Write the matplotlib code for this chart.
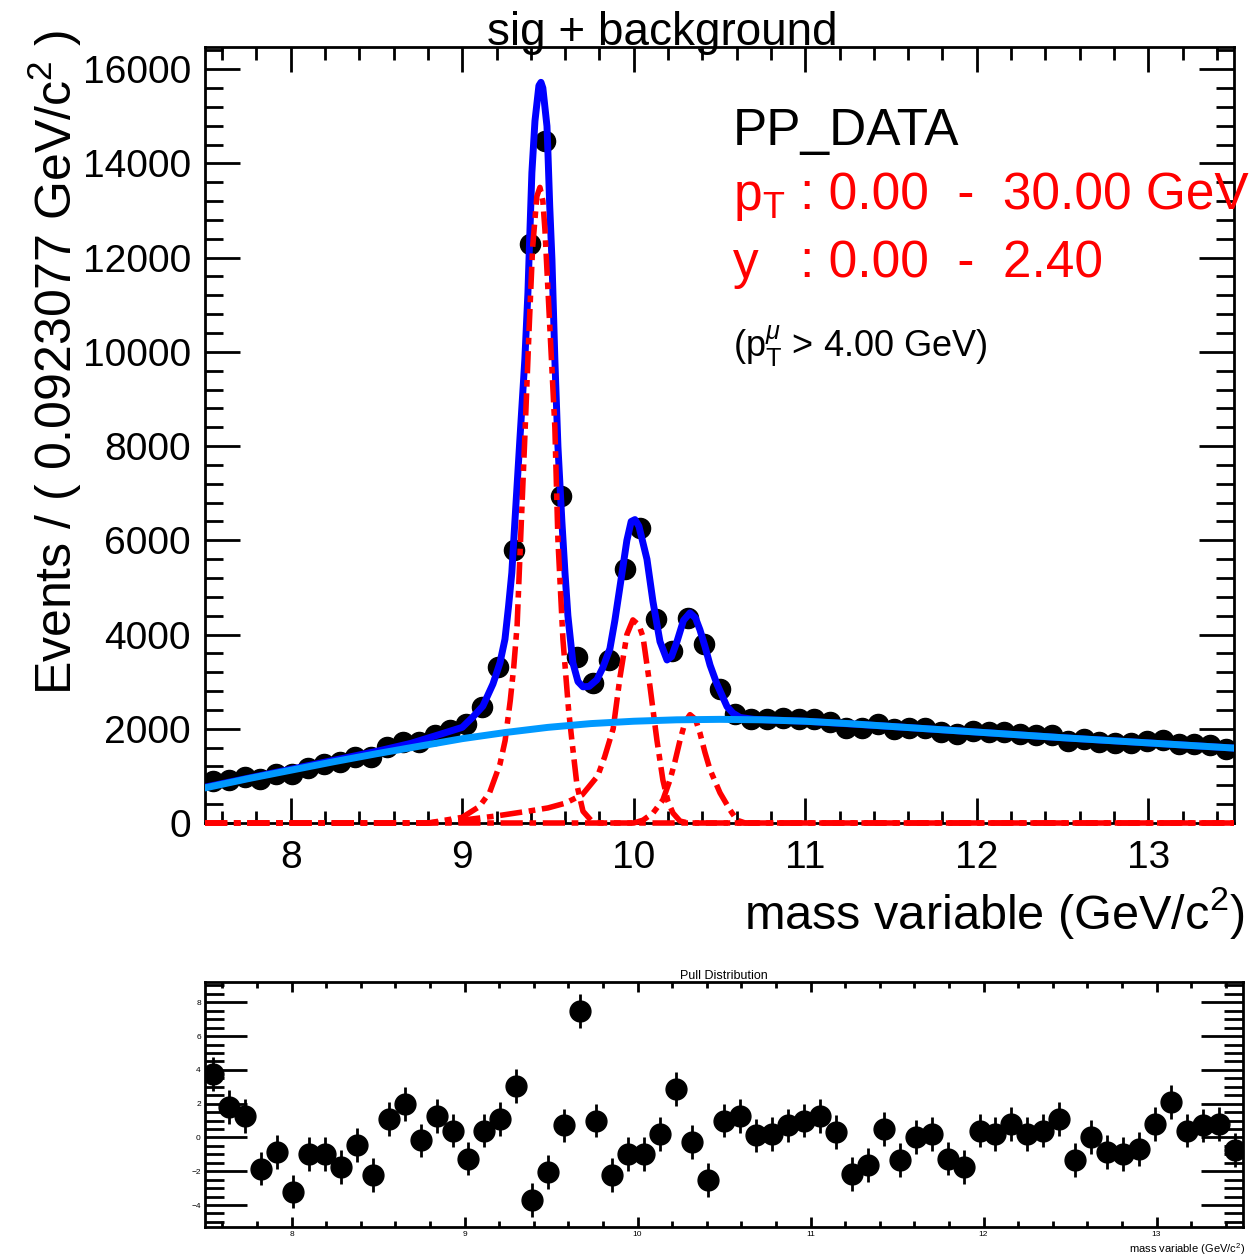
import numpy as np
import matplotlib
matplotlib.use('Agg')
import matplotlib.pyplot as plt
from matplotlib.ticker import MultipleLocator

plt.rcParams.update({
    'font.family'      : 'Liberation Sans',
    'mathtext.fontset' : 'custom',
    'mathtext.rm'      : 'Liberation Sans',
    'mathtext.it'      : 'Liberation Sans:italic',
    'axes.linewidth'   : 2.0,
})

###################################
# data
###################################

bin_width = 0.0923077
x_lo, x_hi = 7.5, 13.5

counts = [895, 912, 969, 942, 1042, 1032, 1177, 1246, 1286, 1402,
          1404, 1603, 1720, 1713, 1865, 1980, 2100, 2470, 3310, 5800,
          12280, 14470, 6930, 3530, 2970, 3460, 5400, 6260, 4330, 3660,
          4360, 3800, 2850, 2310, 2206, 2205, 2218, 2212, 2210, 2144,
          2012, 2015, 2091, 1985, 2025, 2012, 1924, 1881, 1954, 1923,
          1926, 1879, 1865, 1872, 1746, 1784, 1727, 1703, 1695, 1736,
          1767, 1679, 1670, 1653, 1570]

pulls = [3.75, 1.78, 1.29, -1.84, -0.86, -3.2, -0.96, -0.96, -1.75, -0.47,
         -2.24, 1.1, 1.98, -0.18, 1.29, 0.41, -1.25, 0.41, 1.1, 3.06,
         -3.7, -2.04, 0.71, 7.47, 1.0, -2.24, -0.96, -0.96, 0.22, 2.86,
         -0.27, -2.53, 1.0, 1.29, 0.12, 0.22, 0.71, 1.0, 1.29, 0.31,
         -2.14, -1.65, 0.51, -1.35, 0.02, 0.22, -1.25, -1.75, 0.41, 0.22,
         0.8, 0.22, 0.41, 1.1, -1.35, 0.02, -0.86, -0.96, -0.67, 0.8,
         2.08, 0.41, 0.71, 0.8, -0.76]

# total fit (blue)
tot_x = [7.5, 7.75, 8.0, 8.25, 8.5, 8.7, 8.869, 9.0, 9.062, 9.12, 9.179, 9.22,
         9.249, 9.27, 9.289, 9.307, 9.336, 9.365, 9.383, 9.394, 9.406, 9.424,
         9.447, 9.459, 9.47, 9.494, 9.499, 9.51, 9.523, 9.54, 9.558, 9.581,
         9.599, 9.616, 9.645, 9.675, 9.704, 9.74, 9.785, 9.82, 9.861, 9.89,
         9.919, 9.96, 9.985, 10.007, 10.03, 10.077, 10.112, 10.153, 10.194,
         10.22, 10.252, 10.29, 10.328, 10.36, 10.386, 10.415, 10.445, 10.485,
         10.544, 10.579, 10.62, 10.7, 11.0, 11.5, 12.0, 12.5, 13.0, 13.5]
tot_y = [760, 950, 1140, 1330, 1520, 1690, 1880, 2030, 2250, 2480, 2950, 3400,
         3900, 4600, 5310, 6400, 8140, 9840, 11260, 12500, 13800, 14900,
         15650, 15720, 15600, 14790, 14300, 13100, 11960, 9840, 7990, 6400,
         5310, 4400, 3400, 3000, 2890, 2900, 3040, 3300, 3700, 4300,
         5000, 6000, 6400, 6440, 6300, 5600, 4700, 3850, 3460,
         3530, 3850, 4300, 4460, 4350, 4100, 3750, 3350, 2950,
         2470, 2330, 2240, 2200, 2160, 2050, 1930, 1810, 1700, 1590]

# background (light blue)
bkg_x = [7.5, 7.75, 8.0, 8.25, 8.5, 8.75, 9.0, 9.25, 9.5, 9.75, 10.0, 10.25,
         10.5, 10.75, 11.0, 11.25, 11.5, 11.75, 12.0, 12.25, 12.5, 12.75,
         13.0, 13.25, 13.5]
bkg_y = [745, 940, 1120, 1300, 1470, 1630, 1790, 1920, 2030, 2110, 2160, 2190,
         2200, 2190, 2160, 2110, 2050, 1990, 1930, 1870, 1810, 1755,
         1700, 1645, 1590]

# signal peaks (red)
s1_x = [7.5, 8.8, 9.0, 9.1, 9.16, 9.22, 9.25, 9.28, 9.3, 9.32, 9.34, 9.365,
        9.39, 9.41, 9.435, 9.453, 9.47, 9.482, 9.511, 9.54, 9.558, 9.587,
        9.62, 9.639, 9.669, 9.704, 9.75, 9.8, 13.5]
s1_y = [0, 0, 120, 350, 650, 1250, 1750, 2600, 3300, 4200, 6000, 8200,
        10500, 12200, 13300, 13490, 13200, 12600, 10500, 8400, 6000, 3900,
        2400, 1760, 800, 250, 60, 0, 0]

s2_x = [7.5, 8.8, 9.0, 9.2, 9.4, 9.5, 9.6, 9.7, 9.79, 9.83, 9.88, 9.92, 9.96,
        9.995, 10.03, 10.054, 10.095, 10.135, 10.17, 10.2, 10.229, 10.27,
        10.32, 13.5]
s2_y = [0, 0, 60, 150, 260, 320, 420, 600, 1000, 1400, 2000, 3100, 4000,
        4310, 4200, 3950, 2890, 1760, 910, 450, 210, 40, 0, 0]

s3_x = [7.5, 10.0, 10.054, 10.112, 10.17, 10.211, 10.24, 10.27, 10.3, 10.328,
        10.36, 10.386, 10.415, 10.445, 10.503, 10.561, 10.602, 10.65, 13.5]
s3_y = [0, 0, 60, 210, 490, 910, 1300, 1760, 2150, 2300, 2200, 1910, 1500,
        1130, 640, 280, 60, 0, 0]

edges = np.linspace(x_lo, x_hi, 66)
centers = 0.5 * (edges[1:] + edges[:-1])

###################################
# figure
###################################

W, H = 1256, 1255
fig = plt.figure(figsize=(W / 100, H / 100), dpi=100)

def fx(px):
    return px / W

def fy(py):
    return 1 - py / H

ax = fig.add_axes([fx(205), fy(823), fx(1234) - fx(205), fy(47) - fy(823)])
ax2 = fig.add_axes([fx(205), fy(1227), fx(1243) - fx(205), fy(982) - fy(1227)])

# upper panel
ax.errorbar(centers, counts, yerr=np.sqrt(counts), fmt='o', color='black',
            ms=14.5, elinewidth=2, capsize=0, zorder=2)
ax.plot(tot_x, tot_y, color='#0000ff', lw=5, zorder=3)
for sx, sy in [(s1_x, s1_y), (s2_x, s2_y), (s3_x, s3_y)]:
    ax.plot(sx, sy, color='#ff0000', lw=4, dashes=(4, 1.2, 1.2, 1.2),
            clip_on=False, zorder=4)
ax.plot(bkg_x, bkg_y, color='#0099ff', lw=5, zorder=5)

ax.set_xlim(x_lo, x_hi)
ax.set_ylim(0, 16470)
ax.xaxis.set_major_locator(MultipleLocator(1))
ax.xaxis.set_minor_locator(MultipleLocator(0.2))
ax.yaxis.set_major_locator(MultipleLocator(2000))
ax.yaxis.set_minor_locator(MultipleLocator(400))
ax.tick_params(which='both', direction='in', top=True, right=True,
               labelsize=28, width=2)
ax.tick_params(axis='x', which='major', length=18, pad=12)
ax.tick_params(axis='x', which='minor', length=9)
ax.tick_params(axis='y', which='major', length=25, pad=10)
ax.tick_params(axis='y', which='minor', length=13)

fig.text(fx(662), fy(45), 'sig + background', fontsize=33,
         ha='center', va='baseline')
fig.text(fx(55), fy(30), r'Events / ( 0.0923077 GeV/c$^{2}$ )', fontsize=36,
         rotation=90, ha='center', va='top')
fig.text(fx(1245), fy(929), r'mass variable (GeV/c$^{2}$)', fontsize=35,
         ha='right', va='baseline')

fig.text(fx(733), fy(145), 'PP_DATA', fontsize=37, va='baseline')
fig.text(fx(733), fy(210), r'p$_{\mathrm{T}}$', fontsize=37, color='red',
         va='baseline')
fig.text(fx(800), fy(210), ': 0.00  -  30.00 GeV', fontsize=37, color='red',
         va='baseline')
fig.text(fx(733), fy(278), 'y', fontsize=37, color='red', va='baseline')
fig.text(fx(800), fy(278), ': 0.00  -  2.40', fontsize=37, color='red',
         va='baseline')
fig.text(fx(733), fy(357), r'(p$_{\mathrm{T}}^{\mu}$ > 4.00 GeV)', fontsize=26,
         va='baseline')

# pull panel
ax2.errorbar(centers, pulls, yerr=1.0, fmt='o', color='black', ms=15,
             elinewidth=2, capsize=0)
ax2.set_xlim(x_lo, x_hi)
ax2.set_ylim(-5.3, 9.2)
ax2.xaxis.set_major_locator(MultipleLocator(1))
ax2.xaxis.set_minor_locator(MultipleLocator(0.2))
ax2.yaxis.set_major_locator(MultipleLocator(2))
ax2.yaxis.set_minor_locator(MultipleLocator(0.5))
ax2.tick_params(which='both', direction='in', top=True, right=True,
                labelsize=6, width=2, pad=3)
ax2.tick_params(axis='x', which='major', length=7)
ax2.tick_params(axis='x', which='minor', length=4)
ax2.tick_params(axis='y', which='major', length=30)
ax2.tick_params(axis='y', which='minor', length=14)
ax2.set_title('Pull Distribution', fontsize=9, pad=1)
fig.text(fx(1245), fy(1253), r'mass variable (GeV/c$^{2}$)', fontsize=8,
         ha='right', va='baseline')

fig.savefig('out.png', dpi=100)
